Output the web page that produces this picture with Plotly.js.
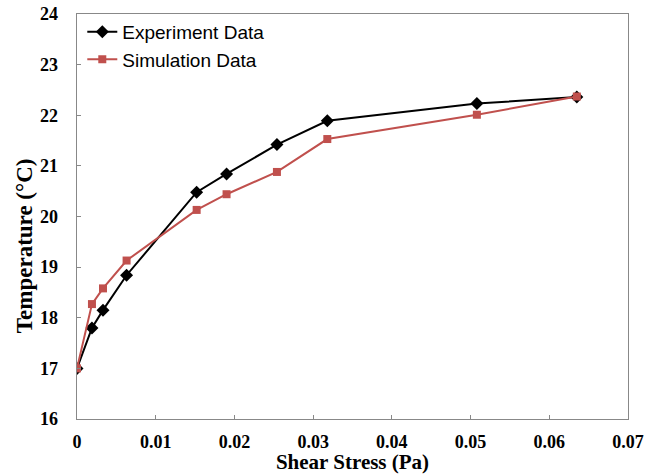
<!DOCTYPE html>
<html>
<head>
<meta charset="utf-8">
<script src="https://cdn.plot.ly/plotly-3.0.1.min.js"></script>
<style>html,body{margin:0;padding:0;background:#fff}#chart{width:656px;height:474px}</style>
</head>
<body>
<div id="chart"></div>
<script>
const shearStress = [0, 0.0019, 0.0033, 0.0063, 0.0152, 0.0190, 0.0254, 0.0318, 0.0508, 0.0635];
const experimentTemp = [17.0, 17.80, 18.15, 18.84, 20.48, 20.84, 21.42, 21.89, 22.23, 22.36];
const simulationTemp = [17.0, 18.27, 18.58, 19.13, 20.13, 20.44, 20.88, 21.53, 22.01, 22.37];
const xTickVals = [0, 0.01, 0.02, 0.03, 0.04, 0.05, 0.06, 0.07];
const xTickText = ['0', '0.01', '0.02', '0.03', '0.04', '0.05', '0.06', '0.07'];
const yTickVals = [16, 17, 18, 19, 20, 21, 22, 23, 24];
const yTitle = 'Temperature (°C)';
const xTitle = 'Shear Stress (Pa)';

const traces = [
  {
    x: shearStress, y: experimentTemp, name: 'Experiment Data',
    type: 'scatter', mode: 'lines+markers',
    line: {color: '#000000', width: 2},
    marker: {symbol: 'diamond', size: 10, color: '#000000'}
  },
  {
    x: shearStress, y: simulationTemp, name: 'Simulation Data',
    type: 'scatter', mode: 'lines+markers',
    line: {color: '#C0504D', width: 2},
    marker: {symbol: 'square', size: 8, color: '#C0504D'}
  }
];

const serif = 'Liberation Serif, Times New Roman, serif';
const tickFont = {family: serif, size: 18, color: '#000', weight: 'bold'};
const layout = {
  width: 656, height: 474,
  margin: {l: 77, r: 28, t: 14, b: 55},
  paper_bgcolor: '#fff', plot_bgcolor: '#fff',
  showlegend: true,
  legend: {
    x: 0.0096, y: 1.003, xanchor: 'left', yanchor: 'top',
    bgcolor: 'rgba(0,0,0,0)',
    font: {family: 'Liberation Sans, Arial, sans-serif', size: 19, color: '#000'},
    tracegroupgap: 0, itemwidth: 30
  },
  xaxis: {
    range: [0, 0.07], tickvals: xTickVals, ticktext: xTickText,
    showgrid: false, zeroline: false,
    showline: true, linecolor: '#888', linewidth: 1.3, mirror: true,
    ticks: 'inside', ticklen: 4, tickcolor: '#888', tickwidth: 1,
    tickfont: tickFont, ticklabelstandoff: 6,
    title: {text: xTitle, font: {family: serif, size: 21, color: '#000', weight: 'bold'}, standoff: 9}
  },
  yaxis: {
    range: [16, 24], tickvals: yTickVals,
    showgrid: false, zeroline: false,
    showline: true, linecolor: '#888', linewidth: 1.3, mirror: true,
    ticks: 'inside', ticklen: 4, tickcolor: '#888', tickwidth: 1,
    tickfont: tickFont, ticklabelstandoff: 14
  },
  annotations: [{
    text: yTitle, textangle: -90, showarrow: false,
    xref: 'paper', yref: 'paper', x: -0.096, y: 0.427,
    xanchor: 'center', yanchor: 'middle',
    font: {family: serif, size: 23, color: '#000', weight: 'bold'}
  }]
};

Plotly.newPlot('chart', traces, layout, {displayModeBar: false, staticPlot: true});
</script>
</body>
</html>
